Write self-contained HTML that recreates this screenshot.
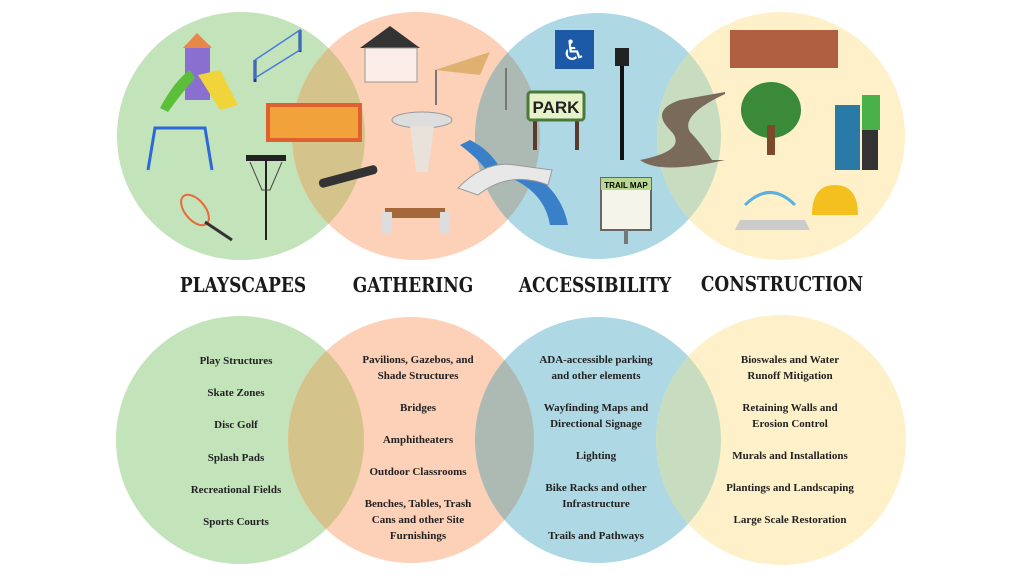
<!DOCTYPE html>
<html><head><meta charset="utf-8"><style>
body{margin:0;width:1024px;height:576px;background:#fff;overflow:hidden;position:relative;font-family:"Liberation Serif",serif}
svg{position:absolute;left:0;top:0}
.t{position:absolute;font-family:"DejaVu Serif",serif;font-weight:bold;font-size:17px;color:#1a1a1a;transform:scaleY(1.2);white-space:nowrap;text-align:center;width:200px}
.l{position:absolute;width:180px;text-align:center;font-weight:bold;font-size:11px;line-height:16px;color:#222}
</style></head><body>
<svg width="1024" height="576">
<defs>
<clipPath id="g1"><circle cx="241" cy="136" r="124"/></clipPath>
<clipPath id="p1"><circle cx="416" cy="136" r="124"/></clipPath>
<clipPath id="b1"><circle cx="598" cy="136" r="123"/></clipPath>
<clipPath id="g2"><circle cx="240" cy="440" r="124"/></clipPath>
<clipPath id="p2"><circle cx="411" cy="440" r="123"/></clipPath>
<clipPath id="b2"><circle cx="598" cy="440" r="123"/></clipPath>
</defs>
<circle cx="241" cy="136" r="124" fill="#c3e3bb"/>
<circle cx="416" cy="136" r="124" fill="#fdd0b8"/>
<circle cx="598" cy="136" r="123" fill="#aed8e4"/>
<circle cx="781" cy="136" r="124" fill="#fef1c9"/>
<circle cx="416" cy="136" r="124" fill="#d5c38c" clip-path="url(#g1)"/>
<circle cx="598" cy="136" r="123" fill="#adbab3" clip-path="url(#p1)"/>
<circle cx="781" cy="136" r="124" fill="#c8dcc0" clip-path="url(#b1)"/>
<circle cx="240" cy="440" r="124" fill="#c3e3bb"/>
<circle cx="411" cy="440" r="123" fill="#fdd0b8"/>
<circle cx="598" cy="440" r="123" fill="#aed8e4"/>
<circle cx="781" cy="440" r="125" fill="#fef1c9"/>
<circle cx="411" cy="440" r="123" fill="#d5c38c" clip-path="url(#g2)"/>
<circle cx="598" cy="440" r="123" fill="#adbab3" clip-path="url(#p2)"/>
<circle cx="781" cy="440" r="125" fill="#c8dcc0" clip-path="url(#b2)"/>
<!-- icons -->
<rect x="185" y="45" width="25" height="55" fill="#8a6fd1"/><polygon points="183,48 197,33 212,48" fill="#e8874a"/>
<path d="M160 108 Q175 80 190 70 L195 78 Q180 95 168 112Z" fill="#5cbf3a"/>
<polygon points="198,75 220,70 238,105 220,110" fill="#f0d43a"/>
<line x1="255" y1="82" x2="255" y2="60" stroke="#1a3a8a" stroke-width="3"/><line x1="300" y1="52" x2="300" y2="30" stroke="#1a3a8a" stroke-width="3"/>
<polygon points="255,60 300,30 300,50 255,78" fill="none" stroke="#4a7ad8" stroke-width="1.5"/>
<rect x="268" y="105" width="92" height="35" fill="#f2a23a" stroke="#e06030" stroke-width="4"/>
<path d="M148 170 L155 128 L205 128 L212 170" fill="none" stroke="#2a6ad8" stroke-width="3"/>
<ellipse cx="195" cy="210" rx="10" ry="18" transform="rotate(-40 195 210)" fill="none" stroke="#e86a3a" stroke-width="2"/><line x1="205" y1="222" x2="232" y2="240" stroke="#333" stroke-width="3"/>
<rect x="246" y="155" width="40" height="6" fill="#222"/><line x1="266" y1="160" x2="266" y2="240" stroke="#222" stroke-width="2"/><path d="M250 162 L262 190 L270 190 L282 162" fill="none" stroke="#444"/>
<polygon points="360,48 390,26 420,48" fill="#333"/><rect x="365" y="48" width="52" height="34" fill="#fbeee8" stroke="#999"/>
<polygon points="435,70 490,52 480,75" fill="#e0b070"/><line x1="436" y1="70" x2="436" y2="105" stroke="#777" stroke-width="2"/><line x1="506" y1="68" x2="506" y2="110" stroke="#777" stroke-width="2"/>
<ellipse cx="422" cy="120" rx="30" ry="8" fill="#ddd" stroke="#999"/><path d="M410 126 L434 126 L428 172 L416 172Z" fill="#e8e2da"/>
<rect x="318" y="172" width="60" height="9" rx="4" fill="#333" transform="rotate(-15 348 176)"/>
<rect x="385" y="208" width="60" height="10" fill="#a5683a"/><rect x="382" y="212" width="10" height="22" fill="#ddd"/><rect x="440" y="212" width="10" height="22" fill="#ddd"/>
<path d="M460 145 Q480 160 490 175 L500 168 Q490 150 470 140Z" fill="#3a80c8"/><path d="M515 180 Q545 195 550 225 L568 225 Q560 185 520 168Z" fill="#3a80c8"/>
<path d="M458 188 Q485 160 515 165 L552 170 L548 185 Q510 170 478 195Z" fill="#e8e8e8" stroke="#999"/>
<rect x="555" y="30" width="39" height="39" fill="#1c5aa8"/><text x="574" y="60" font-size="28" fill="#fff" text-anchor="middle" font-family="DejaVu Sans">♿</text>
<line x1="535" y1="115" x2="535" y2="150" stroke="#5a3a2a" stroke-width="4"/><line x1="577" y1="115" x2="577" y2="150" stroke="#5a3a2a" stroke-width="4"/>
<rect x="528" y="92" width="56" height="28" rx="3" fill="#e6f2c8" stroke="#4a7a3a" stroke-width="3"/><text x="556" y="113" font-size="17" font-weight="bold" text-anchor="middle" font-family="Liberation Sans" fill="#222">PARK</text>
<line x1="622" y1="60" x2="622" y2="160" stroke="#111" stroke-width="4"/><rect x="615" y="48" width="14" height="18" fill="#222"/>
<rect x="601" y="178" width="50" height="52" fill="#f4f4ea" stroke="#666" stroke-width="2"/><rect x="601" y="178" width="50" height="12" fill="#b8d890"/><text x="626" y="188" font-size="8" font-weight="bold" text-anchor="middle" font-family="Liberation Sans">TRAIL MAP</text><line x1="626" y1="230" x2="626" y2="244" stroke="#777" stroke-width="4"/>
<path d="M725 92 L680 100 Q650 110 670 130 Q690 150 640 160 Q660 175 725 160 L712 160 Q700 142 690 132 Q680 115 725 94Z" fill="#7a6a5a"/>
<rect x="730" y="30" width="108" height="38" fill="#b06040"/>
<ellipse cx="771" cy="110" rx="30" ry="28" fill="#3a8a3a"/><rect x="767" y="125" width="8" height="30" fill="#7a4a2a"/>
<rect x="835" y="105" width="25" height="65" fill="#2a7aa8"/><rect x="862" y="95" width="18" height="35" fill="#4ab04a"/><rect x="862" y="130" width="16" height="40" fill="#333"/>
<path d="M735 230 L810 230 L805 220 L740 220Z" fill="#ccc"/><path d="M745 205 Q770 180 795 205" fill="none" stroke="#5ab0e0" stroke-width="3"/>
<path d="M812 215 Q812 185 835 185 Q858 185 858 215Z" fill="#f4c020"/>
</svg>
<div class="t" style="left:143px;top:276px">PLAYSCAPES</div>
<div class="t" style="left:313px;top:276px">GATHERING</div>
<div class="t" style="left:495px;top:276px">ACCESSIBILITY</div>
<div class="t" style="left:682px;top:275px">CONSTRUCTION</div>

<div class="l" style="left:146px;top:353px">Play Structures</div>
<div class="l" style="left:146px;top:385px">Skate Zones</div>
<div class="l" style="left:146px;top:417px">Disc Golf</div>
<div class="l" style="left:146px;top:450px">Splash Pads</div>
<div class="l" style="left:146px;top:482px">Recreational Fields</div>
<div class="l" style="left:146px;top:514px">Sports Courts</div>

<div class="l" style="left:328px;top:352px">Pavilions, Gazebos, and<br>Shade Structures</div>
<div class="l" style="left:328px;top:400px">Bridges</div>
<div class="l" style="left:328px;top:432px">Amphitheaters</div>
<div class="l" style="left:328px;top:464px">Outdoor Classrooms</div>
<div class="l" style="left:328px;top:496px">Benches, Tables, Trash<br>Cans and other Site<br>Furnishings</div>

<div class="l" style="left:506px;top:352px">ADA-accessible parking<br>and other elements</div>
<div class="l" style="left:506px;top:400px">Wayfinding Maps and<br>Directional Signage</div>
<div class="l" style="left:506px;top:448px">Lighting</div>
<div class="l" style="left:506px;top:480px">Bike Racks and other<br>Infrastructure</div>
<div class="l" style="left:506px;top:528px">Trails and Pathways</div>

<div class="l" style="left:700px;top:352px">Bioswales and Water<br>Runoff Mitigation</div>
<div class="l" style="left:700px;top:400px">Retaining Walls and<br>Erosion Control</div>
<div class="l" style="left:700px;top:448px">Murals and Installations</div>
<div class="l" style="left:700px;top:480px">Plantings and Landscaping</div>
<div class="l" style="left:700px;top:512px">Large Scale Restoration</div>
</body></html>
